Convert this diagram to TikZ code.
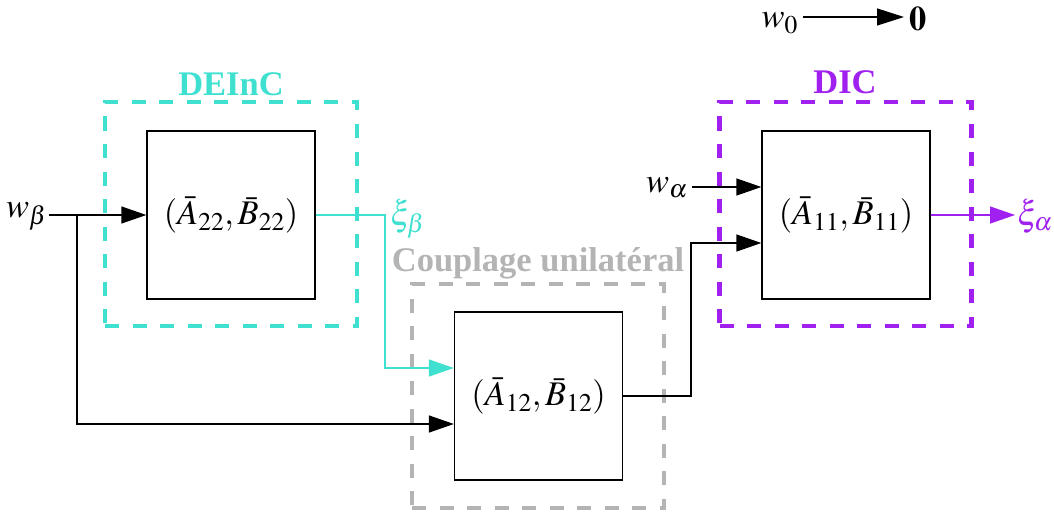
\documentclass[tikz,border=0pt]{standalone}
\usepackage{mathptmx}
\usepackage{fontspec}
\setmainfont{Liberation Serif}
\usetikzlibrary{arrows.meta,calc}
\definecolor{turq}{RGB}{64,224,208}
\definecolor{purp}{RGB}{160,32,240}
\definecolor{grayc}{RGB}{180,180,180}
\begin{document}
\begin{tikzpicture}[x=1pt,y=-1pt,
  every node/.style={font=\fontsize{34.5}{40}\selectfont},
  sysbox/.style={draw, line width=1.3pt, minimum width=168pt, minimum height=168pt, inner sep=0pt},
  framebox/.style={draw, dash pattern=on 14pt off 13.5pt, line width=4.5pt, minimum width=252pt, minimum height=224pt, inner sep=0pt},
  wire/.style={line width=1.3pt},
  tipped/.style={-{Triangle[length=25pt,width=17pt]}},
  lab/.style={font=\fontsize{34.5}{40}\selectfont\bfseries, inner sep=0pt, anchor=base},
  sig/.style={inner sep=0pt}]
\useasboundingbox (0,0) rectangle (1054,516);
% frames
\node[framebox, turq] (f22) at (231,214) {};
\node[framebox, grayc, line width=4pt] (f12) at (538,396) {};
\node[framebox, purp] (f11) at (845.5,214) {};
\node[lab, text=turq] (l22) at (231,96) {DEInC};
\node[lab, text=grayc] (l12) at (538,271) {Couplage unilatéral};
\node[lab, text=purp] (l11) at (845,94) {DIC};
% systems
\node[sysbox, fill=white] (b22) at (231,215) {$(\bar{A}_{22},\bar{B}_{22})$};
\node[sysbox, fill=white] (b12) at (538.5,396) {$(\bar{A}_{12},\bar{B}_{12})$};
\node[sysbox, fill=white] (b11) at (846,215) {$(\bar{A}_{11},\bar{B}_{11})$};
% signals
\node[sig, anchor=base east] (wb) at (47,217) {$w_\beta$};
\node[sig, anchor=base west, text=turq] (xb) at (390,225) {$\xi_\beta$};
\node[sig, anchor=base east] (wa) at (688,192) {$w_\alpha$};
\node[sig, anchor=base west, text=purp] (xa) at (1017,225) {$\xi_\alpha$};
\node[sig, anchor=base east] (w0) at (798,28) {$w_0$};
\node[sig, anchor=base west] (zero) at (909,31) {$\mathbf{0}$};
% connectors
\coordinate (j) at (77,215);
\coordinate (wbend) at (49,215);
\draw[wire, tipped] (wbend) -- (b22.west);
\draw[wire, tipped] (j) |- ($(b12.west)+(0,28)$);
\draw[wire, turq, tipped] (b22.east) -- (385,215) |- ($(b12.west)+(0,-28)$);
\draw[wire, tipped] (b12.east) -- (691,396) |- ($(b11.west)+(0,28)$);
\draw[wire, tipped] (692,187) -- ($(b11.west)+(0,-28)$);
\draw[wire, purp, tipped] (b11.east) -- (1015,215);
\coordinate (z0) at (803,17);
\coordinate (z1) at (904,17);
\draw[wire, -{Triangle[length=27pt,width=17pt]}] (z0) -- (z1);
\end{tikzpicture}
\end{document}
